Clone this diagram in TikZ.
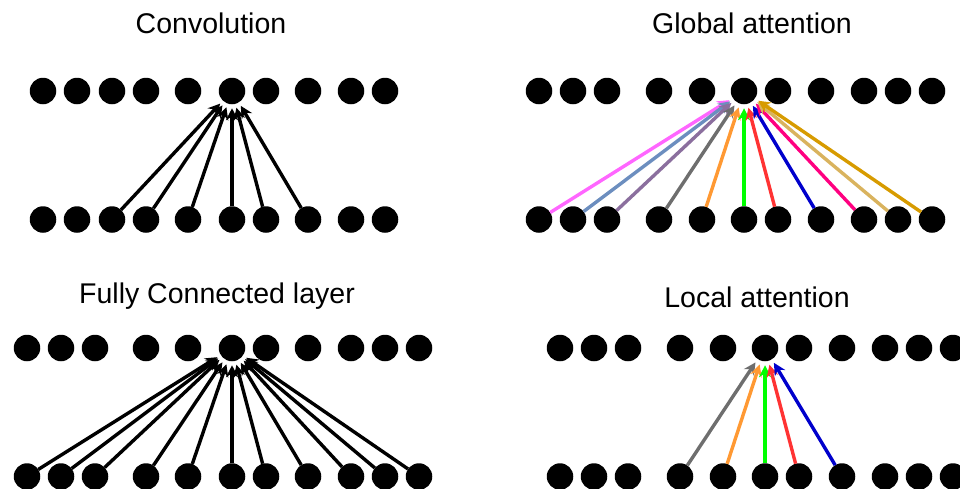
\documentclass[tikz,border=0pt]{standalone}
\usepackage{fontspec}
\setmainfont{Liberation Sans}
\usetikzlibrary{arrows.meta}
\definecolor{cpink}{HTML}{FF66FF}
\definecolor{csteel}{HTML}{6C8EBF}
\definecolor{cpurple}{HTML}{8B6F9E}
\definecolor{cgray}{HTML}{6E6E6E}
\definecolor{corange}{HTML}{FF9933}
\definecolor{cgreen}{HTML}{00FF00}
\definecolor{cred}{HTML}{FF3333}
\definecolor{cblue}{HTML}{0000CC}
\definecolor{cdeeppink}{HTML}{FF0080}
\definecolor{ctan}{HTML}{D9B35E}
\definecolor{cgold}{HTML}{D79B00}
\tikzset{
  dot/.style={circle,fill=black,minimum size=26.5pt,inner sep=0pt,outer sep=0pt},
  title/.style={anchor=base,font=\fontsize{28.5}{34}\selectfont,inner sep=0pt},
  arr/.style={line width=3.4pt,-{Stealth[length=12pt,width=12pt,inset=4pt]},shorten >=4pt}
}
\begin{document}
\begin{tikzpicture}[x=1pt,y=-1pt]
\useasboundingbox (0,0) rectangle (960,488);
% titles
\node[title] (tconv) at (211,33) {Convolution};
\node[title] (tglob) at (752,33) {Global attention};
\node[title] (tfc) at (217,303) {Fully Connected layer};
\node[title] (tloc) at (757,307) {Local attention};
% convolution
\foreach \x [count=\i] in {43,77,112,146,188,232,266,308,351,385}{
  \node[dot] (ct\i) at (\x,91) {};
  \node[dot] (cb\i) at (\x,219.5) {};
}
\foreach \i in {3,...,8}{ \draw[arr] (cb\i) -- (ct6); }
% global attention
\foreach \x [count=\i] in {539,573,607,659,702,744,778,821,864,898,932}{
  \node[dot] (gt\i) at (\x,91) {};
  \node[dot] (gb\i) at (\x,219.5) {};
}
\foreach \i/\c in {1/cpink,2/csteel,3/cpurple,4/cgray,5/corange,6/cgreen,7/cred,8/cblue,9/cdeeppink,10/ctan,11/cgold}{
  \draw[arr,draw=\c,fill=\c] (gb\i) -- (gt6);
}
% fully connected
\foreach \x [count=\i] in {27,61,95,146,188,232,266,308,351,385,419}{
  \node[dot] (ft\i) at (\x,348) {};
  \node[dot] (fb\i) at (\x,476.5) {};
}
\foreach \i in {1,...,11}{ \draw[arr] (fb\i) -- (ft6); }
% local attention
\foreach \x [count=\i] in {560,594,628,680,723,765,799,842,885,919,953}{
  \node[dot] (lt\i) at (\x,348) {};
  \node[dot] (lb\i) at (\x,476.5) {};
}
\foreach \i/\c in {4/cgray,5/corange,6/cgreen,7/cred,8/cblue}{
  \draw[arr,draw=\c,fill=\c] (lb\i) -- (lt6);
}
\end{tikzpicture}
\end{document}
